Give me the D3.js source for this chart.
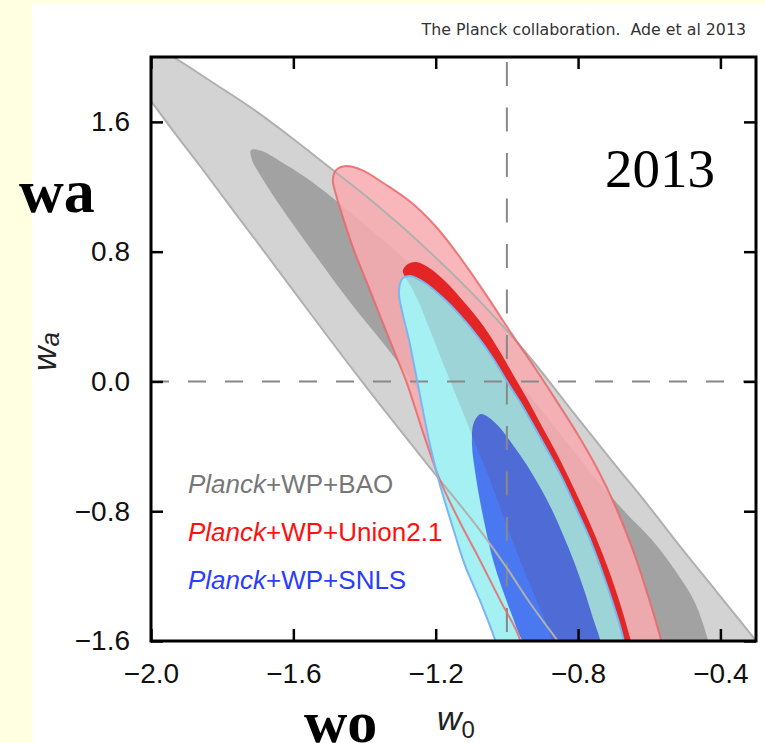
<!DOCTYPE html>
<html>
<head>
<meta charset="utf-8">
<script src="https://cdn.jsdelivr.net/npm/d3@7"></script>
<style>
body { margin: 0; background: #ffffe2; }
svg { display: block; }
</style>
</head>
<body>
<svg id="chart" width="765" height="743"></svg>
<script>
// axis ticks
var xTicks = [-2.0, -1.6, -1.2, -0.8, -0.4];
var yTicks = [-1.6, -0.8, 0.0, 0.8, 1.6];

// contours, [w0, wa] pairs (closed outlines, parts run past the frame)
var baoOuter = [[-2.059,2.142],[-1.938,2.000],[-1.829,1.846],[-1.722,1.692],[-1.604,1.501],[-1.489,1.303],
  [-1.393,1.137],[-1.300,0.964],[-1.202,0.767],[-1.104,0.557],[-1.014,0.348],[-0.927,0.126],
  [-0.823,-0.164],[-0.702,-0.497],[-0.606,-0.756],[-0.514,-1.015],[-0.410,-1.298],[-0.308,-1.576],
  [-0.233,-1.792],[-0.457,-1.995],[-0.795,-1.792],[-0.859,-1.594],[-0.935,-1.366],[-1.000,-1.150],
  [-1.076,-0.916],[-1.188,-0.608],[-1.300,-0.300],[-1.421,0.039],[-1.553,0.422],[-1.685,0.810],
  [-1.778,1.081],[-1.862,1.328],[-1.933,1.531],[-2.000,1.729],[-2.059,1.908],[-2.093,2.105]];
var baoInner = [[-1.719,1.427],[-1.688,1.420],[-1.638,1.359],[-1.567,1.260],[-1.489,1.131],[-1.385,0.940],
  [-1.272,0.724],[-1.160,0.471],[-1.047,0.194],[-0.935,-0.090],[-0.837,-0.361],[-0.747,-0.608],
  [-0.668,-0.805],[-0.592,-0.978],[-0.528,-1.163],[-0.471,-1.366],[-0.435,-1.594],[-0.407,-1.841],
  [-0.570,-1.995],[-0.738,-1.841],[-0.766,-1.594],[-0.851,-1.286],[-0.949,-0.978],[-1.047,-0.670],
  [-1.146,-0.361],[-1.239,-0.084],[-1.328,0.181],[-1.441,0.490],[-1.545,0.798],[-1.635,1.075],
  [-1.688,1.254],[-1.716,1.365]];
var unionOuter = [[-1.489,1.242],[-1.480,1.303],[-1.452,1.328],[-1.407,1.303],[-1.343,1.217],[-1.267,1.100],
  [-1.196,0.946],[-1.126,0.748],[-1.056,0.526],[-0.986,0.292],[-0.921,0.083],[-0.862,-0.115],
  [-0.800,-0.330],[-0.744,-0.546],[-0.693,-0.780],[-0.646,-1.039],[-0.604,-1.317],[-0.567,-1.594],
  [-0.536,-1.903],[-0.738,-2.026],[-0.949,-1.841],[-0.963,-1.594],[-1.019,-1.348],[-1.076,-1.101],
  [-1.135,-0.854],[-1.188,-0.608],[-1.236,-0.312],[-1.281,-0.010],[-1.309,0.144],[-1.337,0.298],
  [-1.393,0.607],[-1.430,0.810],[-1.461,1.014],[-1.480,1.149]];
var unionInner = [[-1.292,0.687],[-1.278,0.724],[-1.255,0.736],[-1.222,0.705],[-1.174,0.619],[-1.118,0.483],
  [-1.064,0.335],[-1.019,0.181],[-0.977,0.021],[-0.938,-0.127],[-0.899,-0.287],[-0.859,-0.448],
  [-0.823,-0.608],[-0.786,-0.780],[-0.750,-0.960],[-0.716,-1.150],[-0.685,-1.348],[-0.660,-1.533],
  [-0.637,-1.718],[-0.612,-1.964],[-0.738,-2.026],[-0.851,-1.718],[-0.893,-1.471],[-0.935,-1.255],
  [-0.974,-1.039],[-1.011,-0.824],[-1.047,-0.608],[-1.087,-0.392],[-1.126,-0.176],[-1.166,0.039],
  [-1.205,0.255],[-1.244,0.471],[-1.272,0.594],[-1.289,0.656]];
var snlsOuter = [[-1.300,0.607],[-1.292,0.638],[-1.272,0.650],[-1.230,0.607],[-1.182,0.520],[-1.132,0.409],
  [-1.081,0.274],[-1.036,0.132],[-0.997,-0.010],[-0.958,-0.145],[-0.918,-0.300],[-0.879,-0.454],
  [-0.842,-0.608],[-0.806,-0.780],[-0.769,-0.960],[-0.736,-1.150],[-0.705,-1.348],[-0.679,-1.533],
  [-0.660,-1.718],[-0.640,-1.964],[-0.795,-2.026],[-0.991,-1.903],[-1.033,-1.594],[-1.076,-1.348],
  [-1.118,-1.132],[-1.154,-0.885],[-1.188,-0.639],[-1.216,-0.392],[-1.239,-0.145],[-1.258,0.070],
  [-1.275,0.255],[-1.292,0.409],[-1.303,0.533]];
var snlsInner = [[-1.084,-0.219],[-1.073,-0.201],[-1.053,-0.219],[-1.019,-0.287],[-0.983,-0.392],[-0.944,-0.515],
  [-0.907,-0.651],[-0.873,-0.793],[-0.842,-0.947],[-0.811,-1.113],[-0.783,-1.286],[-0.758,-1.459],
  [-0.738,-1.594],[-0.719,-1.841],[-0.851,-1.995],[-0.958,-1.594],[-0.986,-1.440],[-1.014,-1.274],
  [-1.039,-1.101],[-1.059,-0.916],[-1.076,-0.731],[-1.090,-0.546],[-1.098,-0.392],[-1.095,-0.269]];

var legendNames = ['+WP+BAO', '+WP+Union2.1', '+WP+SNLS'];
var legendColors = ['#777777', '#ff1010', '#2a3cff'];

var svg = d3.select('#chart');

// white slide panel
svg.append('rect').attr('x', 32).attr('y', 4).attr('width', 733).attr('height', 739).attr('fill', '#fff');

var pl = 151, pr = 756, pt = 57, pb = 641;
var x = d3.scaleLinear().domain([-2.0, -0.3]).range([pl, pr]);
var y = d3.scaleLinear().domain([-1.6, 2.0]).range([pb, pt]);

var shape = d3.line()
  .x(function(d) { return x(d[0]); })
  .y(function(d) { return y(d[1]); })
  .curve(d3.curveCatmullRomClosed);

var defs = svg.append('defs');
defs.append('clipPath').attr('id', 'plotclip')
  .append('rect').attr('x', pl).attr('y', pt).attr('width', pr - pl).attr('height', pb - pt);
defs.append('clipPath').attr('id', 'snlsclip')
  .append('path').attr('d', shape(snlsOuter));

var g = svg.append('g').attr('clip-path', 'url(#plotclip)');

g.append('path').attr('d', shape(baoOuter)).attr('fill', '#d3d3d3');
g.append('path').attr('d', shape(baoInner)).attr('fill', '#a2a2a2');
g.append('path').attr('d', shape(unionOuter)).attr('fill', 'rgb(248,170,176)').attr('fill-opacity', 0.86);
g.append('path').attr('d', shape(unionInner)).attr('fill', 'rgb(226,30,30)').attr('fill-opacity', 0.95);
g.append('path').attr('d', shape(snlsOuter)).attr('fill', 'rgb(164,240,242)');
g.append('path').attr('d', shape(snlsInner)).attr('fill', 'rgb(74,120,240)');
// red 68% region seen through the SNLS contours
g.append('g').attr('clip-path', 'url(#snlsclip)')
  .append('path').attr('d', shape(unionInner))
  .attr('fill', 'rgb(110,20,40)').attr('fill-opacity', 0.13);

// reference lines
g.append('line')
  .attr('x1', pl).attr('x2', pr).attr('y1', y(0)).attr('y2', y(0))
  .attr('stroke', '#888').attr('stroke-width', 2).attr('stroke-dasharray', '18,19');
g.append('line')
  .attr('x1', x(-1)).attr('x2', x(-1)).attr('y1', pt).attr('y2', pb)
  .attr('stroke', '#888').attr('stroke-width', 2)
  .attr('stroke-dasharray', '24,21.5').attr('stroke-dashoffset', 40.5);

// contour edges
g.append('path').attr('d', shape(baoOuter)).attr('fill', 'none')
  .attr('stroke', '#b0b0b0').attr('stroke-width', 2);
g.append('path').attr('d', shape(unionOuter)).attr('fill', 'none')
  .attr('stroke', '#e86868').attr('stroke-width', 2).attr('stroke-opacity', 0.85);
g.append('path').attr('d', shape(snlsOuter)).attr('fill', 'none')
  .attr('stroke', '#7ab6f2').attr('stroke-width', 2);

// axes
var fmt = d3.format('.1f');
function styleAxis(sel) {
  sel.select('.domain').remove();
  sel.selectAll('line').attr('stroke', '#000').attr('stroke-width', 2.5);
  sel.selectAll('text').attr('font-family', 'Liberation Sans, Arial, sans-serif')
    .attr('font-size', 28).attr('fill', '#111');
}
svg.append('g').attr('transform', 'translate(0,' + pb + ')')
  .call(d3.axisBottom(x).tickValues(xTicks).tickFormat(fmt).tickSize(-12).tickPadding(22))
  .call(styleAxis);
svg.append('g').attr('transform', 'translate(' + pl + ',0)')
  .call(d3.axisLeft(y).tickValues(yTicks).tickFormat(fmt).tickSize(-12).tickPadding(21))
  .call(styleAxis);
svg.append('g').attr('transform', 'translate(0,' + pt + ')')
  .call(d3.axisTop(x).tickValues(xTicks).tickFormat('').tickSize(-12))
  .call(styleAxis);
svg.append('g').attr('transform', 'translate(' + pr + ',0)')
  .call(d3.axisRight(y).tickValues(yTicks).tickFormat('').tickSize(-12))
  .call(styleAxis);

svg.append('rect')
  .attr('x', pl).attr('y', pt).attr('width', pr - pl).attr('height', pb - pt)
  .attr('fill', 'none').attr('stroke', '#000').attr('stroke-width', 3);

// axis titles
var wx = svg.append('text').attr('x', 437).attr('y', 730)
  .attr('font-family', 'Liberation Sans, Arial, sans-serif').attr('font-size', 34)
  .attr('font-style', 'italic').attr('fill', '#222');
wx.append('tspan').text('w');
wx.append('tspan').attr('dy', 8).attr('font-size', 24).attr('font-style', 'normal').text('0');

var wy = svg.append('text').attr('transform', 'translate(56,371) rotate(-90)')
  .attr('font-family', 'Liberation Sans, Arial, sans-serif').attr('font-size', 34)
  .attr('font-style', 'italic').attr('fill', '#222');
wy.append('tspan').text('w');
wy.append('tspan').attr('dy', 3).attr('font-size', 26).text('a');

// legend
var legend = svg.append('g')
  .attr('font-family', 'Liberation Sans, Arial, sans-serif').attr('font-size', 26)
  .selectAll('text')
  .data(legendNames)
  .enter().append('text')
    .attr('x', 188)
    .attr('y', function(d, i) { return 493 + i * 48; })
    .attr('fill', function(d, i) { return legendColors[i]; });
legend.append('tspan').attr('font-style', 'italic').text('Planck');
legend.append('tspan').text(function(d) { return d; });

// slide annotations
svg.append('text').attr('x', 746).attr('y', 35).attr('text-anchor', 'end')
  .attr('font-family', 'DejaVu Sans, sans-serif').attr('font-size', 15.8).attr('fill', '#333')
  .style('white-space', 'pre')
  .text('The Planck collaboration.  Ade et al 2013');
svg.append('text').attr('x', 605).attr('y', 187)
  .attr('font-family', 'Liberation Serif, Times New Roman, serif').attr('font-size', 55)
  .text('2013');
svg.append('text').attr('x', 19).attr('y', 212)
  .attr('font-family', 'Liberation Serif, Times New Roman, serif').attr('font-size', 62)
  .attr('font-weight', 'bold').text('wa');
svg.append('text').attr('x', 304).attr('y', 742)
  .attr('font-family', 'Liberation Serif, Times New Roman, serif').attr('font-size', 60)
  .attr('font-weight', 'bold').text('wo');
</script>
</body>
</html>
